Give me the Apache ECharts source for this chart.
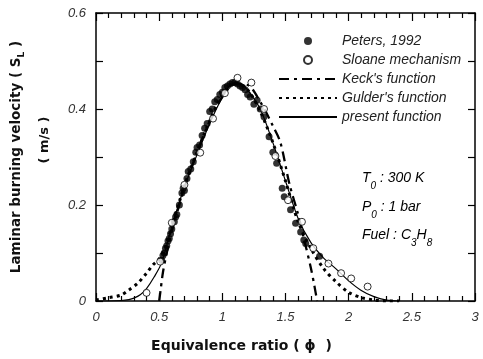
<!DOCTYPE html>
<html>
<head>
<meta charset="utf-8">
<script src="https://cdn.jsdelivr.net/npm/echarts@6/dist/echarts.min.js"></script>
<style>html,body{margin:0;padding:0;background:#fff}#c{width:483px;height:359px}</style>
</head>
<body>
<div id="c"></div>
<script>
var xTicks = [0, 0.5, 1, 1.5, 2, 2.5, 3];
var yTicks = [0, 0.2, 0.4, 0.6];

var peters = [
  [0.52,0.085],[0.53,0.095],[0.54,0.10],[0.55,0.11],[0.56,0.115],[0.57,0.125],[0.58,0.13],[0.59,0.14],
  [0.60,0.15],[0.62,0.165],[0.63,0.175],[0.64,0.18],[0.66,0.20],[0.68,0.225],[0.69,0.235],[0.70,0.23],
  [0.72,0.255],[0.73,0.27],[0.75,0.275],[0.77,0.29],[0.79,0.31],[0.80,0.32],[0.82,0.325],[0.84,0.345],
  [0.86,0.36],[0.88,0.37],[0.90,0.395],[0.92,0.40],[0.94,0.415],[0.96,0.42],[0.98,0.43],[1.00,0.435],
  [1.02,0.445],[1.04,0.448],[1.06,0.452],[1.08,0.455],[1.10,0.455],[1.12,0.452],[1.14,0.448],[1.16,0.445],
  [1.18,0.44],[1.20,0.43],[1.22,0.425],[1.25,0.41],[1.275,0.418],[1.30,0.40],[1.33,0.384],[1.37,0.342],
  [1.40,0.31],[1.43,0.287],[1.474,0.235],[1.49,0.217],[1.54,0.19],[1.58,0.162],[1.62,0.144],[1.645,0.127],
  [1.66,0.12],[1.77,0.093]
];
var sloane = [
  [0.40,0.017],[0.508,0.082],[0.60,0.163],[0.70,0.242],[0.825,0.309],[0.926,0.38],[1.02,0.433],[1.12,0.465],
  [1.23,0.455],[1.33,0.40],[1.42,0.302],[1.52,0.21],[1.63,0.165],[1.72,0.11],[1.84,0.078],[1.94,0.058],
  [2.02,0.047],[2.15,0.030]
];
var keck = [
  [0.50,0],[0.51,0.02],[0.53,0.06],[0.56,0.10],[0.60,0.145],[0.70,0.235],[0.80,0.31],[0.90,0.375],
  [1.00,0.425],[1.10,0.452],[1.20,0.45],[1.30,0.415],[1.40,0.365],[1.46,0.33],[1.53,0.245],[1.60,0.18],
  [1.65,0.125],[1.70,0.07],[1.73,0.03],[1.75,0]
];
var gulder = [
  [0,0.002],[0.1,0.007],[0.2,0.0125],[0.26,0.023],[0.33,0.037],[0.40,0.058],[0.45,0.075],[0.50,0.088],
  [0.55,0.112],[0.60,0.155],[0.70,0.24],[0.80,0.31],[0.90,0.375],[1.00,0.43],[1.10,0.455],[1.20,0.44],
  [1.30,0.395],[1.40,0.33],[1.50,0.25],[1.60,0.165],[1.70,0.11],[1.80,0.068],[1.90,0.04],[2.00,0.018],
  [2.10,0.007],[2.20,0.002],[2.30,0.0],[2.40,0]
];
var present = [
  [0,0],[0.1,0],[0.2,0.001],[0.26,0.003],[0.30,0.006],[0.35,0.013],[0.40,0.026],[0.46,0.05],[0.52,0.08],
  [0.60,0.155],[0.70,0.238],[0.80,0.305],[0.90,0.37],[1.00,0.425],[1.05,0.446],[1.10,0.455],[1.15,0.452],
  [1.20,0.44],[1.30,0.40],[1.40,0.33],[1.50,0.25],[1.60,0.172],[1.70,0.122],[1.80,0.09],[1.90,0.067],
  [2.00,0.042],[2.10,0.022],[2.20,0.009],[2.30,0.002],[2.40,0]
];

var chart = echarts.init(document.getElementById('c'), null, {renderer: 'canvas'});
var lblFont = 'Liberation Sans, Arial, sans-serif';
var titleFont = 'DejaVu Sans, Liberation Sans, sans-serif';
var richSub = {
  a: {fontFamily: 'Liberation Sans, Arial', fontStyle: 'italic', fontSize: 14, color: '#222', lineHeight: 16},
  s: {fontFamily: 'Liberation Sans, Arial', fontStyle: 'italic', fontSize: 10, color: '#222', lineHeight: 10, padding: [16, 0, 0, 0]}
};

function mkX(pos, showLabel) {
  return {
    type: 'value', gridIndex: 0, position: pos, min: 0, max: 3, interval: 0.5,
    axisLine: {show: true, onZero: false, lineStyle: {color: '#000', width: 1.5}},
    axisTick: {show: true, inside: true, length: 8, lineStyle: {color: '#000', width: 1.2}},
    minorTick: {show: true, splitNumber: 5, length: 5, lineStyle: {color: '#000', width: 1.2}},
    splitLine: {show: false},
    axisLabel: {show: showLabel, margin: 10, fontFamily: lblFont, fontStyle: 'italic', fontSize: 13, color: '#333'}
  };
}
function mkY(pos, showLabel) {
  return {
    type: 'value', gridIndex: 0, position: pos, min: 0, max: 0.6, interval: 0.2,
    axisLine: {show: true, onZero: false, lineStyle: {color: '#000', width: 1.5}},
    axisTick: {show: true, inside: true, length: 7, lineStyle: {color: '#000', width: 1.2}},
    minorTick: {show: true, splitNumber: 2, length: 7, lineStyle: {color: '#000', width: 1.2}},
    splitLine: {show: false},
    axisLabel: {show: showLabel, margin: 10, fontFamily: lblFont, fontStyle: 'italic', fontSize: 13, color: '#333'}
  };
}

chart.setOption({
  animation: false,
  grid: {left: 96, right: 8, top: 13, bottom: 58},
  xAxis: [mkX('bottom', true), mkX('top', false)],
  yAxis: [mkY('left', true), mkY('right', false)],
  legend: {
    left: 273, top: 29, orient: 'vertical', itemWidth: 58, itemHeight: 8, itemGap: 5,
    textStyle: {fontFamily: 'Liberation Sans, Arial', fontStyle: 'italic', fontSize: 14, color: '#222'},
    data: [
      {name: 'Peters, 1992', icon: 'circle'},
      {name: 'Sloane mechanism', icon: 'circle'},
      {name: 'Keck\'s function', itemStyle: {opacity: 0}},
      {name: 'Gulder\'s function', itemStyle: {opacity: 0}},
      {name: 'present function', itemStyle: {opacity: 0}}
    ]
  },
  series: [
    {name: 'present function', type: 'line', xAxisIndex: 0, yAxisIndex: 0, data: present, showSymbol: false, symbol: 'none', smooth: 0.3,
      itemStyle: {color: '#000'}, lineStyle: {color: '#000', width: 1.2}, z: 3},
    {name: 'Gulder\'s function', type: 'line', data: gulder, showSymbol: false, symbol: 'none', smooth: 0.3,
      itemStyle: {color: '#000'}, lineStyle: {color: '#000', width: 3, type: [3, 4]}, z: 3},
    {name: 'Keck\'s function', type: 'line', data: keck, showSymbol: false, symbol: 'none', smooth: 0.3,
      itemStyle: {color: '#000'}, lineStyle: {color: '#000', width: 2.3, type: [10, 5, 3, 5]}, z: 3},
    {name: 'Peters, 1992', type: 'scatter', data: peters, symbol: 'circle', symbolSize: 7,
      itemStyle: {color: '#000'}, z: 4},
    {name: 'Sloane mechanism', type: 'scatter', data: sloane, symbol: 'circle', symbolSize: 7,
      itemStyle: {color: '#fff', borderColor: '#000', borderWidth: 1}, z: 5},
    {name: 'axes-top-right', type: 'line', xAxisIndex: 1, yAxisIndex: 1, data: [], silent: true}
  ],
  graphic: [
    {type: 'text', left: 'center', top: 339, style: {
      text: 'Equivalence ratio ( ϕ  )', font: 'bold 14px ' + titleFont, fill: '#111'}},
    {type: 'text', x: 16, y: 157, rotation: Math.PI / 2, style: {
      text: '{b|Laminar burning velocity ( S}{l|L}{b| )}', align: 'center', verticalAlign: 'middle',
      rich: {b: {font: 'bold 13.5px ' + titleFont, fill: '#111', lineHeight: 16},
             l: {font: 'bold 9px ' + titleFont, fill: '#111', lineHeight: 9, padding: [12, 0, 0, 0]}}}},
    {type: 'text', x: 45, y: 140, rotation: Math.PI / 2, style: {
      text: '( m/s )', align: 'center', verticalAlign: 'middle', font: 'bold 13px ' + titleFont, fill: '#111'}},
    {type: 'text', x: 362, y: 170, style: {text: '{a|T}{s|0}{a| : 300 K}', rich: richSub}},
    {type: 'text', x: 362, y: 199, style: {text: '{a|P}{s|0}{a| : 1 bar}', rich: richSub}},
    {type: 'text', x: 362, y: 227, style: {text: '{a|Fuel : C}{s|3}{a|H}{s|8}', rich: richSub}}
  ]
});
</script>
</body>
</html>
